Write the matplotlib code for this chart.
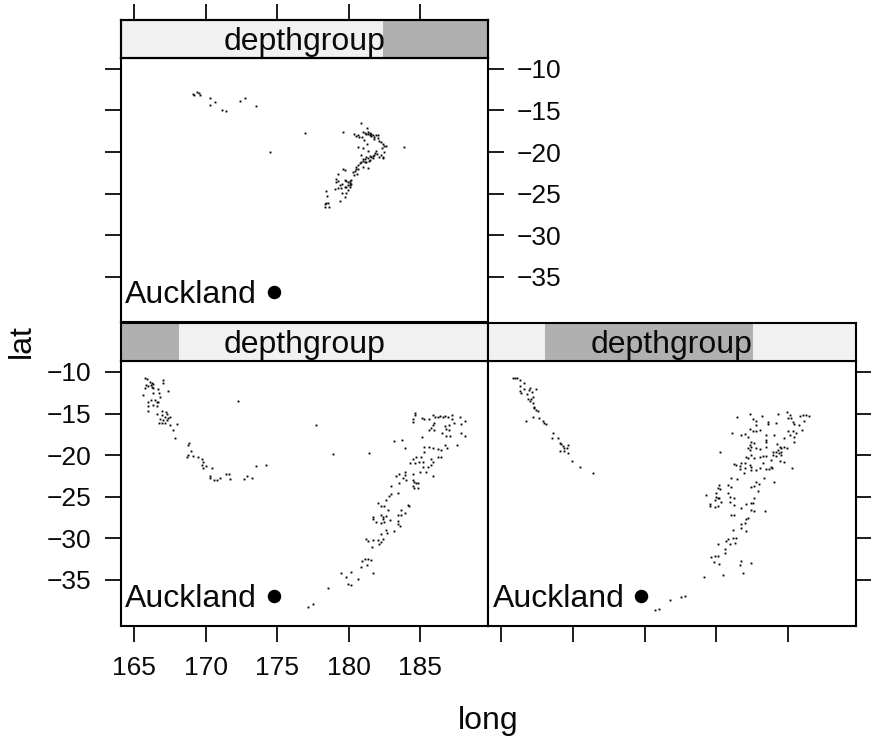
import matplotlib
matplotlib.use("Agg")
import matplotlib.pyplot as plt

plt.rcParams['font.family'] = ['Liberation Sans', 'DejaVu Sans']

W, H = 871, 739
LON_LIM = (164.09, 189.72)
LAT_LIM = (-40.53, -8.68)
LON_TICKS = [165, 170, 175, 180, 185]
LAT_TICKS = [-10, -15, -20, -25, -30, -35]
STRIP_LABEL = "depthgroup"
CITY = "Auckland"
CITY_LON, CITY_LAT = 174.76, -36.87
DEPTH_RANGE = (40, 680)
DEPTH_SHALLOW = (40, 141)
DEPTH_MIDDLE = (139, 501)
DEPTH_DEEP = (497, 680)

deep_lon = [169.09,169.18,169.41,169.51,169.60,170.30,170.64,170.34,171.11,171.41,172.39,172.74,173.50,174.48,176.96,179.56,180.82,181.24,180.33,180.47,180.61,180.68,180.89,181.03,181.24,180.61,180.96,180.98,181.10,181.21,181.33,181.45,181.45,181.56,181.68,181.79,181.91,182.03,181.79,182.03,182.14,182.26,182.38,182.49,182.61,182.33,183.82,182.49,182.26,182.38,182.42,181.91,181.86,181.79,181.68,181.56,181.45,181.33,181.21,181.10,180.98,181.33,180.87,180.98,181.21,181.45,180.75,180.87,180.63,180.52,180.63,180.40,180.28,180.56,180.33,181.33,180.98,179.59,179.70,179.22,179.12,179.24,179.08,179.70,179.82,179.94,180.05,180.17,180.05,180.17,179.94,179.82,180.05,179.36,179.54,179.01,179.24,179.47,179.70,179.94,179.54,179.82,179.70,179.36,178.38,178.45,178.31,178.43,178.54,178.31,178.59,181.68,181.96,182.10,181.40,181.10,180.47,180.10,181.33,181.56]
deep_lat = [-12.99,-13.07,-12.71,-12.87,-13.07,-13.47,-13.95,-14.31,-14.86,-14.98,-13.83,-13.47,-14.43,-19.93,-17.66,-17.54,-16.46,-17.06,-17.78,-18.01,-17.89,-18.13,-18.13,-18.49,-18.97,-19.33,-19.45,-17.54,-17.66,-17.78,-17.54,-17.66,-17.89,-18.01,-17.89,-18.13,-17.89,-17.89,-18.37,-18.25,-18.61,-18.73,-18.97,-19.21,-19.29,-19.45,-19.33,-19.93,-20.29,-20.53,-20.65,-19.81,-20.05,-20.29,-20.41,-20.53,-20.41,-20.65,-20.53,-20.77,-20.77,-19.81,-20.29,-21.00,-21.12,-20.93,-21.24,-21.12,-21.48,-21.72,-22.00,-22.20,-22.32,-22.60,-22.68,-21.92,-21.80,-22.00,-22.12,-22.56,-23.16,-23.40,-23.52,-23.28,-23.40,-23.52,-23.40,-23.28,-23.64,-23.76,-23.88,-24.11,-24.11,-23.88,-23.76,-24.35,-24.23,-24.23,-24.11,-24.47,-24.91,-24.91,-25.31,-25.79,-24.59,-25.19,-26.15,-26.03,-26.03,-26.51,-26.51,-20.69,-20.21,-20.53,-21.00,-21.16,-22.00,-23.88,-17.82,-17.74]

shallow_lon = [165.77,165.93,166.11,166.23,166.16,166.35,166.00,165.84,165.77,166.23,166.35,167.00,167.02,166.67,167.39,166.32,166.74,165.63,166.84,165.98,166.18,166.46,166.58,166.70,166.35,166.58,165.98,165.98,166.97,166.60,167.23,167.30,166.95,167.16,167.51,167.39,166.81,167.00,167.28,166.77,166.93,167.16,167.51,167.97,167.69,167.86,168.86,168.74,168.95,168.74,168.69,169.11,169.46,169.72,169.83,169.76,170.02,169.79,170.48,170.34,170.30,170.60,170.76,170.97,171.41,171.60,171.69,172.67,172.87,173.22,173.50,174.20,172.27,177.73,178.87,181.38,
184.61,184.65,184.51,184.51,185.12,185.28,185.63,185.86,186.05,186.21,186.37,186.56,186.74,186.90,187.21,187.21,187.76,188.13,185.98,185.86,185.74,185.98,185.63,186.74,187.02,187.37,187.83,186.79,187.02,186.51,186.79,187.07,187.83,188.13,185.14,183.19,183.68,183.89,185.28,185.63,185.91,186.21,186.44,186.74,186.84,187.58,185.28,185.05,184.70,184.51,184.28,184.65,184.93,185.21,185.74,186.21,186.44,185.86,185.74,185.51,185.21,184.98,185.39,185.91,184.51,183.95,183.95,183.49,183.30,183.77,184.00,183.49,182.96,184.47,184.58,184.70,184.47,184.58,184.81,184.81,183.42,182.96,182.79,182.61,182.07,182.26,182.49,182.77,184.12,184.23,183.65,183.42,183.65,183.89,182.26,182.38,182.61,182.38,181.72,181.72,181.91,182.26,182.49,182.89,183.42,183.42,183.58,183.19,182.61,182.26,182.65,181.17,181.33,181.68,182.03,182.38,182.26,182.10,181.59,181.10,181.33,181.56,180.93,181.26,180.87,181.72,179.43,180.17,179.82,180.61,179.91,180.17,178.52,177.47,177.13]
shallow_lat = [-10.68,-10.88,-11.16,-11.28,-11.56,-11.44,-11.67,-11.56,-11.91,-11.75,-11.95,-10.96,-11.28,-12.03,-12.23,-12.51,-12.51,-12.75,-12.99,-13.55,-13.35,-13.35,-13.59,-13.59,-13.95,-14.07,-14.07,-14.63,-14.63,-15.02,-14.78,-15.02,-15.14,-15.34,-15.34,-15.54,-15.66,-15.74,-15.74,-16.14,-16.14,-16.06,-16.30,-16.18,-16.94,-17.85,-18.49,-18.69,-19.45,-19.97,-20.21,-20.05,-20.13,-20.41,-20.73,-21.12,-21.24,-21.44,-21.48,-22.44,-22.68,-22.92,-22.92,-22.68,-22.20,-22.20,-22.80,-22.76,-22.40,-22.68,-21.20,-21.12,-13.47,-16.34,-19.81,-19.69,
-14.90,-15.14,-15.62,-15.98,-15.54,-15.62,-15.62,-15.14,-15.34,-15.42,-15.26,-15.34,-15.26,-15.42,-15.10,-15.58,-15.38,-15.82,-16.06,-16.34,-16.74,-16.94,-16.94,-16.46,-16.34,-16.06,-16.22,-16.86,-16.94,-17.26,-17.62,-17.62,-17.26,-17.62,-17.78,-18.21,-18.13,-19.09,-18.97,-18.93,-19.09,-19.25,-19.33,-18.77,-19.09,-18.73,-19.57,-20.13,-20.13,-20.41,-20.89,-20.93,-20.73,-20.73,-20.37,-20.13,-20.13,-20.73,-21.12,-21.32,-21.40,-21.92,-21.92,-22.44,-22.20,-21.96,-22.32,-22.20,-22.44,-22.72,-22.92,-23.32,-23.60,-22.92,-23.20,-23.32,-23.60,-23.92,-23.92,-23.32,-24.43,-24.59,-24.83,-25.31,-25.63,-26.03,-26.03,-26.51,-25.91,-25.99,-26.51,-27.11,-27.11,-26.91,-27.11,-27.30,-27.22,-27.54,-27.30,-27.58,-27.90,-28.02,-27.90,-27.70,-27.82,-28.18,-28.42,-28.98,-28.90,-29.38,-29.30,-29.98,-30.22,-30.10,-30.10,-29.98,-30.30,-30.57,-30.89,-32.37,-32.37,-32.49,-32.61,-33.09,-33.37,-34.00,-34.00,-33.88,-34.48,-34.72,-35.36,-35.48,-35.80,-37.75,-38.07]

middle_lon = [165.81,165.98,166.11,166.30,166.58,166.30,166.35,166.58,166.37,166.79,166.97,167.04,167.14,167.42,166.90,167.09,167.25,167.04,167.21,167.28,167.32,167.44,167.56,167.21,166.72,167.67,167.90,167.97,168.14,168.65,168.53,169.00,169.07,169.18,169.30,169.41,169.65,169.60,169.13,169.41,169.69,169.92,170.51,171.39,
181.42,182.33,182.54,182.77,182.77,183.19,183.58,183.58,184.14,184.28,184.91,185.09,184.98,185.21,185.33,185.39,185.79,186.02,186.25,186.44,186.09,185.72,185.95,184.98,185.33,185.56,185.09,185.39,184.70,185.39,182.31,182.54,182.77,183.00,181.07,181.72,181.96,182.19,183.47,183.47,184.00,182.42,182.65,183.47,182.31,182.42,182.19,182.31,184.23,184.40,184.51,184.28,184.70,184.93,182.77,183.00,183.47,180.28,182.07,182.19,182.42,182.65,183.00,183.23,183.47,183.93,183.93,184.16,184.33,184.51,184.16,184.51,183.82,184.40,184.70,185.26,181.21,181.38,181.65,181.72,182.00,182.31,182.42,181.61,181.91,182.00,182.42,182.77,183.00,183.23,183.47,183.63,183.77,183.88,181.03,181.45,183.30,184.00,182.77,182.93,182.42,182.65,182.89,180.21,180.10,180.28,180.80,181.03,179.26,179.94,179.98,180.10,179.87,180.21,180.80,180.91,181.21,180.33,180.91,181.21,179.52,179.52,179.87,180.10,181.68,182.07,182.42,182.58,182.61,182.42,182.65,183.35,181.03,181.19,182.07,182.19,181.96,181.68,181.72,181.14,182.07,180.84,180.68,181.14,181.38,180.10,180.91,181.26,180.61,180.61,179.63,179.87,180.14,179.82,180.21,181.68,181.61,182.38,180.49,181.84,179.12,177.78,177.50,176.80,176.03,175.73]
middle_lat = [-10.68,-10.68,-10.76,-11.00,-11.28,-11.63,-12.23,-12.07,-12.55,-12.67,-12.15,-11.95,-12.35,-12.03,-13.23,-13.23,-13.03,-13.47,-13.75,-14.15,-14.35,-14.55,-14.63,-15.34,-15.82,-15.50,-15.86,-16.14,-16.22,-17.30,-17.85,-17.85,-18.45,-18.61,-18.85,-19.05,-18.73,-19.13,-19.41,-19.41,-19.65,-20.65,-21.36,-22.08,
-15.38,-15.02,-15.66,-15.86,-16.34,-15.26,-15.98,-16.22,-16.10,-15.02,-14.74,-15.14,-15.54,-15.54,-15.94,-16.22,-15.26,-15.18,-15.10,-15.26,-15.82,-16.34,-16.94,-17.06,-17.06,-17.34,-17.54,-17.74,-17.85,-18.33,-16.82,-17.02,-17.02,-16.94,-17.26,-17.54,-17.42,-17.74,-17.54,-18.13,-17.54,-18.33,-18.45,-18.33,-18.73,-18.93,-19.13,-19.33,-18.61,-18.93,-19.13,-19.33,-18.93,-19.05,-19.13,-19.21,-19.01,-19.57,-20.13,-20.33,-19.93,-20.33,-20.21,-20.05,-20.05,-19.53,-19.93,-19.53,-19.73,-19.53,-20.05,-19.93,-20.53,-20.61,-20.73,-21.48,-21.00,-21.12,-21.20,-20.93,-20.85,-21.12,-21.32,-21.64,-22.12,-21.52,-21.72,-21.72,-21.52,-20.93,-21.64,-21.64,-21.32,-21.52,-22.68,-22.76,-22.68,-23.16,-23.20,-23.40,-23.72,-23.64,-24.19,-23.52,-23.84,-24.03,-23.52,-23.72,-24.71,-24.51,-24.91,-25.11,-25.31,-25.11,-24.51,-24.91,-25.11,-25.51,-25.51,-25.91,-25.79,-26.03,-26.11,-25.99,-26.23,-25.79,-25.63,-25.63,-25.03,-26.51,-26.63,-26.63,-27.11,-27.11,-27.62,-27.50,-28.10,-28.18,-28.70,-28.90,-28.98,-30.02,-30.22,-29.82,-29.90,-30.57,-30.57,-30.49,-31.17,-31.69,-32.09,-32.01,-32.01,-32.69,-32.97,-32.57,-33.09,-32.85,-34.28,-34.00,-34.52,-36.75,-36.87,-37.27,-38.31,-38.47]

# the latitudes above were read against a slightly coarse scale; this refines the reading
LAT_READING_FACTOR = 1.0048


def refine(values):
    return [-10 + (v + 10) * LAT_READING_FACTOR for v in values]


PX = 72 / 100
STRIP_BG = "#F1F1F1"
STRIP_FG = "#B0B0B0"
INK = "#0A0A0A"
BORDER = 1.5
FS_BIG = 23
FS_TICK = 19
TICK_LEN = 16 * PX
TICK_W = 1.25


def rect(x0, y0, x1, y1):
    return [x0 / W, 1 - y1 / H, (x1 - x0) / W, (y1 - y0) / H]


fig = plt.figure(figsize=(W / 100, H / 100), dpi=100, facecolor="white")


def panel(px_x0, px_x1, py_top, py_bot, lon, lat, level):
    ax = fig.add_axes(rect(px_x0, py_top, px_x1, py_bot))
    ax.set_xlim(*LON_LIM)
    ax.set_ylim(*LAT_LIM)
    ax.plot(lon, refine(lat), ls="none", marker="s", ms=1.35, mfc="black", mec="none", zorder=2)
    ax.plot([CITY_LON], [CITY_LAT], ls="none", marker="o", ms=9.7, mfc="black", mec="none", zorder=3)
    ax.annotate(CITY, (CITY_LON, CITY_LAT), xytext=(-16.5 * PX, -11 * PX), textcoords="offset points",
                ha="right", va="baseline", fontsize=FS_BIG, color=INK)
    ax.set_xticks(LON_TICKS)
    ax.set_yticks(LAT_TICKS)
    ax.tick_params(length=TICK_LEN, width=TICK_W, labelsize=FS_TICK, direction="out", pad=5,
                   labelcolor=INK, bottom=False, left=False, labelbottom=False, labelleft=False)
    for s in ax.spines.values():
        s.set_linewidth(BORDER)
    st = fig.add_axes(rect(px_x0, py_top - 38, px_x1, py_top))
    st.set_facecolor(STRIP_BG)
    st.set_xlim(*DEPTH_RANGE)
    st.set_ylim(0, 1)
    st.axvspan(level[0], level[1], color=STRIP_FG, lw=0, zorder=1)
    st.text(0.5, 0.21, STRIP_LABEL, transform=st.transAxes, ha="center", va="baseline",
            fontsize=FS_BIG, color=INK, zorder=3)
    st.set_yticks([])
    st.set_xticks([])
    for s in st.spines.values():
        s.set_linewidth(BORDER)
        s.set_zorder(4)
    return ax, st


# upper panel (deep)
a1, s1 = panel(121, 488, 58, 322.5, deep_lon, deep_lat, DEPTH_DEEP)
a1.tick_params(left=True, right=True, labelright=True)
a1.tick_params(axis="y", pad=9)
s1t = s1.twiny()
s1t.set_xlim(*LON_LIM)
s1t.set_xticks(LON_TICKS)
s1t.tick_params(length=TICK_LEN, width=TICK_W, labeltop=False, direction="out")
s1t.set_yticks([])
for s in s1t.spines.values():
    s.set_linewidth(BORDER)

# lower left (shallow)
a2, s2 = panel(121, 488, 361, 626, shallow_lon, shallow_lat, DEPTH_SHALLOW)
a2.tick_params(left=True, bottom=True, labelleft=True, labelbottom=True)
a2.tick_params(axis="x", pad=10)
a2.tick_params(axis="y", pad=10)

# lower right (middle)
a3, s3 = panel(488, 856, 361, 626, middle_lon, middle_lat, DEPTH_MIDDLE)
a3.tick_params(bottom=True, right=True)

fig.text(488.5 / W, 1 - 729 / H, "long", ha="center", va="baseline", fontsize=FS_BIG, color=INK)
fig.text(30 / W, 1 - 341 / H, "lat", ha="center", va="baseline", rotation=90, rotation_mode="anchor",
         fontsize=FS_BIG, color=INK)

fig.savefig("out.png", dpi=100)
